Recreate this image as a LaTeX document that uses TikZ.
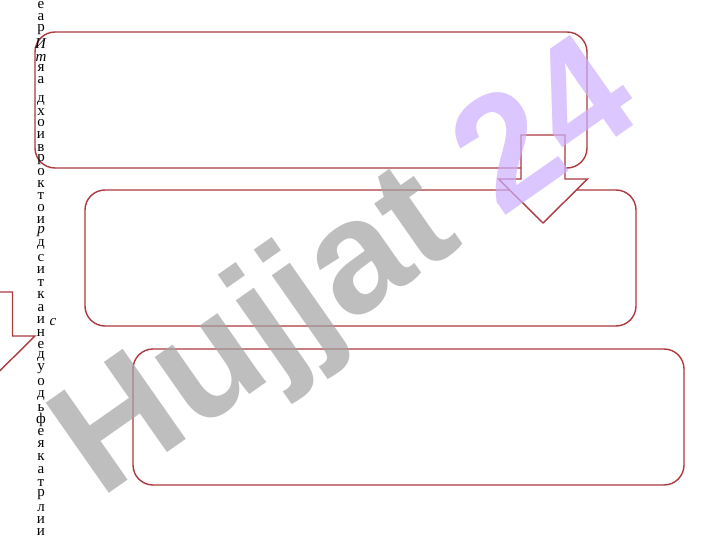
\documentclass[tikz,border=0pt]{standalone}
\usepackage{fontspec}
\setmainfont{Liberation Serif}
\newfontfamily\wmfont{Liberation Sans}
\definecolor{boxred}{RGB}{172,58,62}
\definecolor{wmgray}{RGB}{163,163,163}
\definecolor{wmpurple}{RGB}{205,175,255}
\begin{document}
\begin{tikzpicture}[x=1pt,y=-1pt,
  roundbox/.style={draw=boxred,line width=1.4pt,rounded corners=20pt,fill=white},
  blockarrow/.style={draw=boxred,line width=1.4pt,fill=white,line join=miter},
  letter/.style={font=\fontsize{15}{15}\selectfont,inner sep=0pt,anchor=center}]
\useasboundingbox (0,0) rectangle (720,540);
% boxes
\draw[roundbox] (35,32) rectangle (587,168);
\draw[roundbox] (85,190) rectangle (636,326);
\draw[roundbox] (133,349) rectangle (684,485);
% block arrows
\begin{scope}[shift={(543,135)}]
\draw[blockarrow] (-22,0) -- (22,0) -- (22,44) -- (44.5,44) -- (0,88) -- (-44.5,44) -- (-22,44) -- cycle;
\end{scope}
\begin{scope}[shift={(-9.5,292)}]
\draw[blockarrow] (-22,0) -- (22,0) -- (22,44) -- (44.5,44) -- (0,88) -- (-44.5,44) -- (-22,44) -- cycle;
\end{scope}
% vertical letter column
\foreach \yy/\ch [count=\i] in {5/е,17/а,30/р,44/\textit{И},58/\textit{т},68/я,80/а,101/д,112/х,123/о,135/и,148/в,160/р,172/о,184/к,196/т,208/о,220/и,232/\textit{р},245/д,258/с,270/и,283/т,295/к,308/а,320/и,333/н,345/е,357/д,369/у,382/о,396/д,408/ь,420/ф,432/е,444/я,457/к,470/а,483/т,495/р,508/л,520/и,532/и,545/н}
  \node[letter] (l\i) at (41,\yy) {\ch};
\node[letter] (lc) at (53,322) {\textit{с}};
% watermark
\node[font=\wmfont\bfseries\fontsize{160}{160}\selectfont,rotate=35,opacity=0.7,inner sep=0pt] (wm) at (350,274)
  {\textcolor{wmgray}{Hujjat} \textcolor{wmpurple}{24}};
\end{tikzpicture}
\end{document}
